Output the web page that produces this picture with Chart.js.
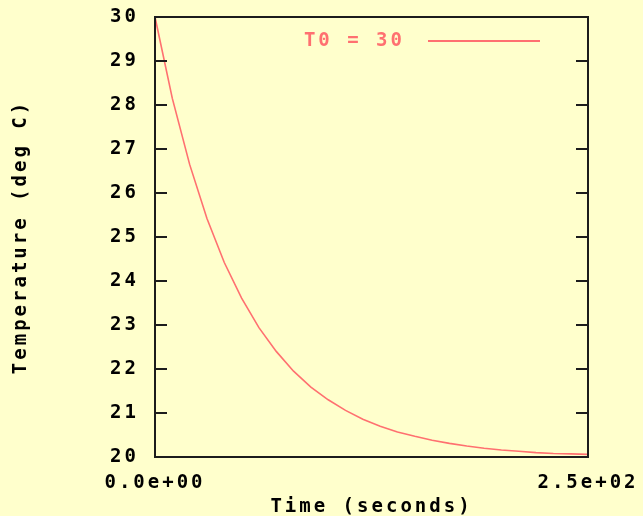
<!DOCTYPE html>
<html>
<head>
<meta charset="utf-8">
<script src="https://cdn.jsdelivr.net/npm/chart.js@4/dist/chart.umd.min.js"></script>
<style>
  html, body { margin: 0; padding: 0; background: #ffffcc; }
  canvas { display: block; }
</style>
</head>
<body>
<canvas id="cooling" width="643" height="516"></canvas>
<script>
// --- Daten ---
const timeSec = [0, 10, 20, 30, 40, 50, 60, 70, 80, 90, 100, 110, 120, 130, 140, 150, 160, 170, 180, 190, 200, 210, 220, 230, 240, 250];
const tempC = [30.0, 28.15, 26.65, 25.42, 24.42, 23.61, 22.94, 22.40, 21.95, 21.59, 21.30, 21.06, 20.86, 20.70, 20.57, 20.47, 20.38, 20.31, 20.25, 20.20, 20.16, 20.13, 20.10, 20.08, 20.07, 20.06];
const seriesLabel = 'T0 = 30';
const xTickValues = [0, 250];
const xTickLabels = ['0.0e+00', '2.5e+02'];
const yTickValues = [20, 21, 22, 23, 24, 25, 26, 27, 28, 29, 30];

const BG = '#ffffcc';
const LINE = '#ff7070';
const FRAME = '#1c1c1c';
const FONT = { family: "'DejaVu Sans Mono', monospace", size: 19, weight: 'bold' };
const SPACING = '3px';

// gnuplot-artige Schrift: breiter Zeichenabstand
const spacingPlugin = {
    id: 'spacing',
    beforeUpdate(chart) { chart.ctx.letterSpacing = SPACING; },
    beforeDraw(chart) {
        const ctx = chart.ctx;
        ctx.letterSpacing = SPACING;
        ctx.save();
        ctx.fillStyle = BG;
        ctx.fillRect(0, 0, chart.width, chart.height);
        ctx.restore();
    }
};

// Rahmen + nach innen zeigende Ticks links und rechts
const framePlugin = {
    id: 'frame',
    afterDraw(chart) {
        const { ctx, chartArea: a } = chart;
        const y = chart.scales.y;
        ctx.save();
        ctx.strokeStyle = FRAME;
        ctx.lineWidth = 2;
        ctx.strokeRect(a.left, a.top, a.right - a.left, a.bottom - a.top);
        yTickValues.forEach(v => {
            const py = Math.round(y.getPixelForValue(v));
            ctx.beginPath();
            ctx.moveTo(a.left, py);
            ctx.lineTo(a.left + 12, py);
            ctx.stroke();
            ctx.beginPath();
            ctx.moveTo(a.right - 12, py);
            ctx.lineTo(a.right, py);
            ctx.stroke();
        });
        ctx.restore();
    }
};

// Legende oben rechts im Plotbereich
const keyPlugin = {
    id: 'key',
    afterDatasetsDraw(chart) {
        const ctx = chart.ctx;
        const ds = chart.data.datasets[0];
        ctx.save();
        ctx.letterSpacing = SPACING;
        ctx.font = `bold ${FONT.size}px ${FONT.family}`;
        ctx.fillStyle = ds.borderColor;
        ctx.textAlign = 'right';
        ctx.textBaseline = 'middle';
        ctx.fillText(ds.label, 405, 41);
        ctx.strokeStyle = ds.borderColor;
        ctx.lineWidth = 2;
        ctx.beginPath();
        ctx.moveTo(428, 41);
        ctx.lineTo(540, 41);
        ctx.stroke();
        ctx.restore();
    }
};

new Chart(document.getElementById('cooling'), {
    type: 'line',
    data: {
        datasets: [{
            label: seriesLabel,
            data: timeSec.map((t, i) => ({ x: t, y: tempC[i] })),
            borderColor: LINE,
            borderWidth: 1.6,
            pointRadius: 0,
            tension: 0,
            clip: false
        }]
    },
    options: {
        responsive: false,
        animation: false,
        events: [],
        layout: { padding: { top: 17, right: 55, left: 0, bottom: 0 } },
        plugins: {
            legend: { display: false },
            tooltip: { enabled: false }
        },
        scales: {
            x: {
                type: 'linear', min: 0, max: 250,
                afterBuildTicks: s => { s.ticks = xTickValues.map(v => ({ value: v })); },
                afterFit: s => { s.height = 59; s.paddingLeft = 0; s.paddingRight = 0; },
                grid: { display: false, drawTicks: false },
                border: { display: false },
                ticks: {
                    color: '#000', font: FONT, padding: 15, maxRotation: 0,
                    autoSkip: false,
                    callback: (v, i) => xTickLabels[i]
                },
                title: { display: true, text: 'Time (seconds)', color: '#000', font: FONT, padding: { top: 0, bottom: -2 } }
            },
            y: {
                type: 'linear', min: 20, max: 30,
                afterBuildTicks: s => { s.ticks = yTickValues.map(v => ({ value: v })); },
                afterFit: s => { s.width = 155; s.paddingTop = 0; s.paddingBottom = 0; },
                grid: { display: false, drawTicks: false },
                border: { display: false },
                ticks: { color: '#000', font: FONT, padding: 16 },
                title: { display: true, text: 'Temperature (deg C)', color: '#000', font: FONT, padding: { top: 10, bottom: 0 } }
            }
        }
    },
    plugins: [spacingPlugin, framePlugin, keyPlugin]
});
</script>
</body>
</html>
